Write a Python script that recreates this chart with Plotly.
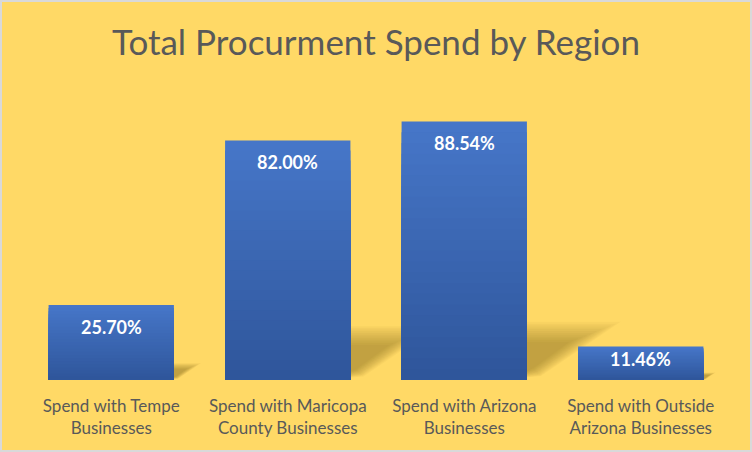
import plotly.graph_objects as go

categories = ["Spend with Tempe<br>Businesses", "Spend with Maricopa<br>County Businesses",
              "Spend with Arizona<br>Businesses", "Spend with Outside<br>Arizona Businesses"]
values = [25.70, 82.00, 88.54, 11.46]
labels = ["25.70%", "82.00%", "88.54%", "11.46%"]
label_shift = [-22, -21, -22, -12]

FONT = "Lato, Noto Sans, sans-serif"
BAR_W = 0.71
xs = list(range(len(categories)))

fig = go.Figure()

# soft perspective shadows (behind bars), derived from each bar's value
shapes = []
L = 12
for x, v in zip(xs, values):
    xr = x + BAR_W / 2
    for j in range(L):
        g = j / (L - 1)           # 0 = outer, 1 = inner
        top = 0.225 * v * (1 - 0.35 * g)
        bot = 0.015 * v + 0.03 * v * g
        d = 0.0060 * v * (1 - 0.55 * g)
        path = "M %f,%f L %f,%f L %f,%f L %f,%f Z" % (
            xr - 0.05, bot * 0.5, xr - 0.05, top, xr + d, top, xr + d * 0.15, bot)
        shapes.append(dict(type="path", xref="x", yref="y", path=path,
                           fillcolor="rgb(115,90,25)", opacity=0.045,
                           line=dict(width=0), layer="below"))

# gradient simulation: overlaid bars, darker toward bottom
top_rgb = (70, 118, 200)
bot_rgb = (47, 86, 155)
N = 24
for k in range(N):
    f = 1 - k / N
    t = k / (N - 1)
    c = tuple(round(top_rgb[i] + (bot_rgb[i] - top_rgb[i]) * t) for i in range(3))
    fig.add_trace(go.Bar(
        x=xs, y=[v * f for v in values],
        marker=dict(color="rgb(%d,%d,%d)" % c, line=dict(width=0)),
        width=BAR_W, hoverinfo="skip", showlegend=False))

for x, v, lab, s in zip(xs, values, labels, label_shift):
    fig.add_annotation(x=x, y=v, text="<b>%s</b>" % lab, showarrow=False,
                       yshift=s, yanchor="middle",
                       font=dict(family=FONT, size=18, color="white"))

shapes.append(dict(type="rect", xref="paper", yref="paper", x0=-23/706, x1=1+23/706,
                   y0=-72/292, y1=1+88/292, line=dict(color="#D9D9D9", width=4)))

fig.update_layout(
    width=752, height=452,
    barmode="overlay",
    paper_bgcolor="#FFD966", plot_bgcolor="#FFD966",
    margin=dict(l=23, r=23, t=88, b=72),
    title=dict(text="Total Procurment Spend by Region", x=0.5, xanchor="center",
               y=1 - 43 / 452, yanchor="middle",
               font=dict(family=FONT, size=35, color="#595959")),
    xaxis=dict(range=[-0.5, 3.5], tickvals=xs, ticktext=categories,
               showgrid=False, showline=False, zeroline=False, ticks="",
               ticklabelstandoff=14, fixedrange=True,
               tickfont=dict(family=FONT, size=17, color="#595959")),
    yaxis=dict(range=[0, 100], visible=False, fixedrange=True),
    shapes=shapes,
)

fig.write_html("out.html", config={"displayModeBar": False},
               post_script="document.body.style.margin='0';")
